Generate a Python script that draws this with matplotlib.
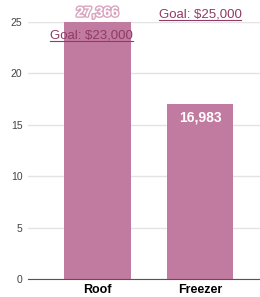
import matplotlib
matplotlib.use("Agg")
import matplotlib.pyplot as plt
import matplotlib.patheffects as pe

categories = ["Roof", "Freezer"]
values = [27.366, 16.983]          # thousands
value_labels = ["27,366", "16,983"]
goals = [23.0, 25.0]
goal_labels = ["Goal: $23,000", "Goal: $25,000"]
yticks = [0, 5, 10, 15, 20, 25]

plt.rcParams['font.family'] = ['Liberation Sans', 'DejaVu Sans']
bar_color = "#C27BA0"
goal_color = "#8E3B66"

fig = plt.figure(figsize=(2.6, 2.97), dpi=100)
ax = fig.add_axes([28/260, 18/297, 232/260, 257/297])
x = list(range(len(categories)))
ax.bar(x, values, width=0.65, color=bar_color, zorder=2)
ax.set_ylim(0, 25)
ax.set_xlim(-0.678, 1.585)
ax.set_yticks(yticks)
ax.set_xticks(x)
ax.set_xticklabels(categories, fontweight='bold', fontsize=9)
ax.tick_params(axis='y', labelsize=7.5, length=0, pad=4, colors='#444444')
ax.tick_params(axis='x', length=0, pad=3.5)
ax.grid(axis='y', color='#e3e3e3', linewidth=1, zorder=0)
for s in ['left', 'right', 'top']:
    ax.spines[s].set_visible(False)
ax.spines['bottom'].set_color('#555555')
ax.spines['bottom'].set_zorder(3)

# value labels
ax.text(x[0], 25.25, value_labels[0], ha='center', va='bottom', color='white',
        fontsize=10, fontweight='bold', clip_on=False,
        path_effects=[pe.withStroke(linewidth=2, foreground='#d9a4c0')], zorder=4)
ax.text(x[1], values[1] - 0.6, value_labels[1], ha='center', va='top', color='white',
        fontsize=10, fontweight='bold', zorder=4)

# goal labels (underlined)
goal_x = [-0.06, 1.0]
fig.canvas.draw()
renderer = fig.canvas.get_renderer()
for gx, gy, gl in zip(goal_x, goals, goal_labels):
    t = ax.text(gx, gy + 0.15, gl, ha='center', va='bottom', color=goal_color,
                fontsize=9.5, clip_on=False, zorder=5)
    bb = t.get_window_extent(renderer=renderer)
    inv = fig.transFigure.inverted()
    (x0, y0), (x1, y1) = inv.transform([(bb.x0, bb.y0), (bb.x1, bb.y0)])
    fig.add_artist(plt.Line2D([x0, x1], [y0 + 0.5/297, y0 + 0.5/297],
                              color=goal_color, linewidth=0.8))

fig.savefig("out.png", dpi=100)
